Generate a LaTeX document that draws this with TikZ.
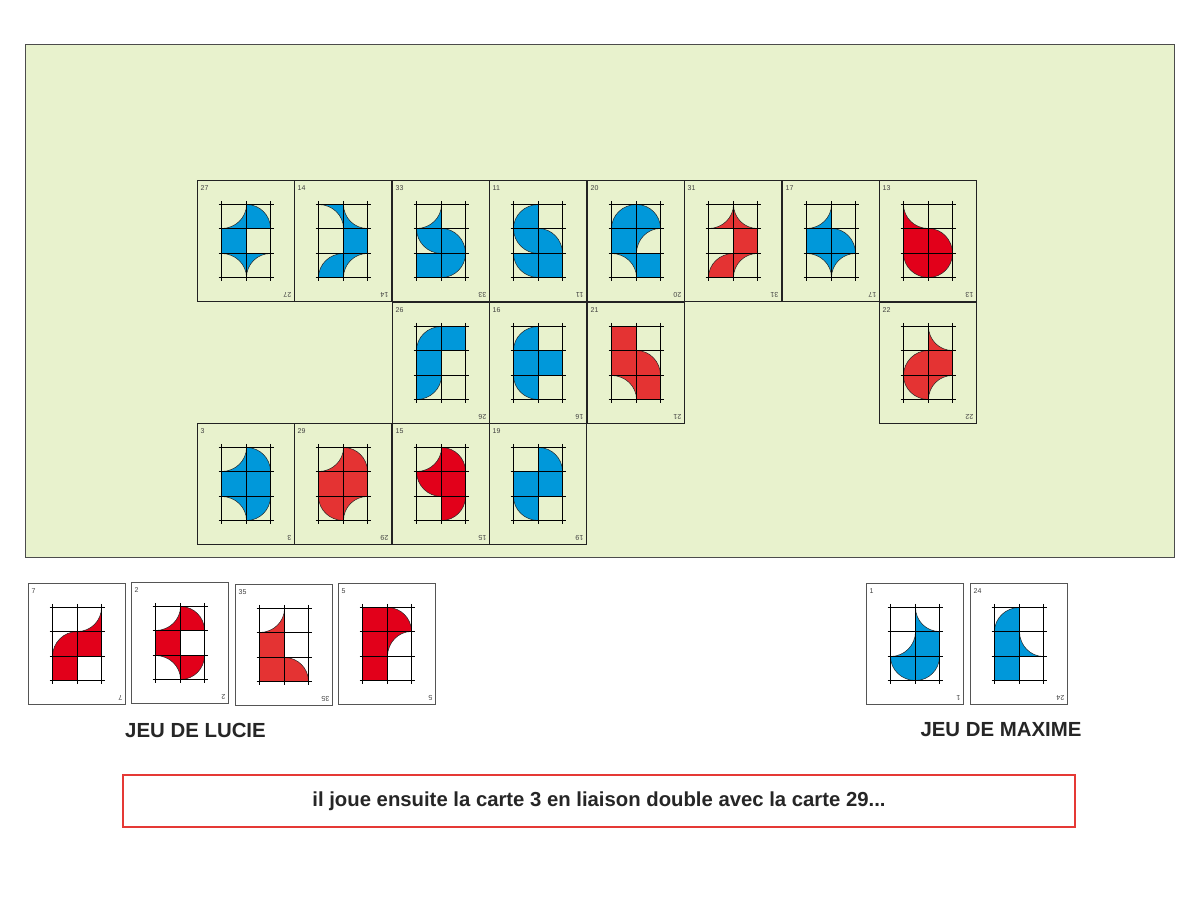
\documentclass[tikz,border=0pt]{standalone}
\usepackage{fontspec}
\setmainfont{Liberation Sans}
\definecolor{board}{HTML}{E8F2CD}
\definecolor{cblue}{HTML}{0098DA}
\definecolor{credA}{HTML}{E2001A}
\definecolor{credB}{HTML}{E43333}
\definecolor{cardline}{HTML}{222222}
\definecolor{handline}{HTML}{555555}
\definecolor{boxred}{HTML}{E53935}
\tikzset{
  piece/.style={draw=black!85, line width=0.5pt},
  gridline/.style={black, line width=1.3pt},
  cardbox/.style={draw=cardline, line width=1pt, minimum width=97pt, minimum height=121pt, inner sep=0pt, outer sep=0pt},
  cardnum/.style={font=\fontsize{7}{8}\selectfont, text=black!75, inner sep=0pt},
  hlabel/.style={font=\bfseries\fontsize{20.4}{24}\selectfont, text=black!85, inner sep=0pt},
  boardbox/.style={draw=black!70, line width=1pt, fill=board, minimum width=1149pt, minimum height=513pt, inner sep=0pt},
  msgbox/.style={draw=boxred, line width=1.2pt, fill=white, minimum width=952pt, minimum height=52pt, inner sep=0pt, font=\bfseries\fontsize{20.3}{24}\selectfont, text=black!85},
}
\newcommand\pcE[1]{}
\newcommand\pcF[1]{\filldraw[piece,fill=#1] (0,0) rectangle (1,1);}
\newcommand\pcQbl[1]{\filldraw[piece,fill=#1] (0,0) -- (1,0) arc[start angle=0,end angle=90,radius=1] -- cycle;}
\newcommand\pcQbr[1]{\filldraw[piece,fill=#1] (1,0) -- (1,1) arc[start angle=90,end angle=180,radius=1] -- cycle;}
\newcommand\pcQtl[1]{\filldraw[piece,fill=#1] (0,1) -- (0,0) arc[start angle=270,end angle=360,radius=1] -- cycle;}
\newcommand\pcQtr[1]{\filldraw[piece,fill=#1] (1,1) -- (0,1) arc[start angle=180,end angle=270,radius=1] -- cycle;}
\newcommand\pcCbl[1]{\filldraw[piece,fill=#1] (1,1) -- (0,1) arc[start angle=90,end angle=0,radius=1] -- cycle;}
\newcommand\pcCbr[1]{\filldraw[piece,fill=#1] (0,1) -- (0,0) arc[start angle=180,end angle=90,radius=1] -- cycle;}
\newcommand\pcCtl[1]{\filldraw[piece,fill=#1] (1,0) -- (1,1) arc[start angle=0,end angle=-90,radius=1] -- cycle;}
\newcommand\pcCtr[1]{\filldraw[piece,fill=#1] (0,0) -- (1,0) arc[start angle=270,end angle=180,radius=1] -- cycle;}
% #1 x (image), #2 top y (image), #3 number, #4 colour, #5 cells, #6 card fill, #7 border colour
\newcommand\gamecard[7]{%
  \pgfmathsetmacro\cx{floor(#1)+0.5}%
  \pgfmathsetmacro\cy{floor(900-#2)+0.5}%
  \node[cardbox,fill=#6,draw=#7,anchor=north west] (card#3) at (\cx,\cy) {};
  \pgfmathsetmacro\gx{\cx+24.4}%
  \pgfmathsetmacro\gy{\cy-23.8}%
  \foreach \cc [count=\i from 0] in {#5}{%
    \pgfmathtruncatemacro\rr{int(\i/2)}%
    \pgfmathtruncatemacro\ccol{mod(\i,2)}%
    \pgfmathsetmacro\pxa{floor(\gx+\ccol*24.4)+0.5}%
    \pgfmathsetmacro\pxb{floor(\gx+(\ccol+1)*24.4)+0.5}%
    \pgfmathsetmacro\pya{floor(\gy-(\rr+1)*24.4)+0.5}%
    \pgfmathsetmacro\pyb{floor(\gy-\rr*24.4)+0.5}%
    \pgfmathsetmacro\sx{\pxb-\pxa}%
    \pgfmathsetmacro\sy{\pyb-\pya}%
    \begin{scope}[shift={(\pxa pt,\pya pt)},x=\sx pt,y=\sy pt]
      \csname pc\cc\endcsname{#4}
    \end{scope}
  }
  \foreach \k in {0,1,2} {%
    \pgfmathsetmacro\lx{floor(\gx+\k*24.4)+0.5}%
    \draw[gridline] (\lx,\gy+3.3) -- (\lx,\gy-73.2-3.3);
  }
  \foreach \k in {0,1,2,3} {%
    \pgfmathsetmacro\ly{floor(\gy-\k*24.4)+0.5}%
    \draw[gridline] (\gx-3.3,\ly) -- (\gx+48.8+3.3,\ly);
  }
  \node[cardnum,anchor=north west] (numA#3) at (\cx+3,\cy-4.5) {#3};
  \node[cardnum,anchor=north west,rotate=180] (numB#3) at (\cx+94,\cy-117) {#3};
}
\begin{document}
\begin{tikzpicture}[x=1pt,y=1pt]
\useasboundingbox (0,0) rectangle (1200,900);
\fill[white] (0,0) rectangle (1200,900);
\node[boardbox,anchor=north west] (board) at (24.5,855.5) {};
% row 1
\gamecard{197}{181}{27}{cblue}{Ctl,Qbl,F,E,Cbl,Cbr}{none}{cardline}
\gamecard{294.5}{181}{14}{cblue}{Cbl,Ctr,E,F,Qbr,Cbr}{none}{cardline}
\gamecard{392}{181}{33}{cblue}{Ctl,E,Qtr,Qbl,F,Qtl}{none}{cardline}
\gamecard{489.5}{181}{11}{cblue}{Qbr,E,Qtr,Qbl,Qtr,F}{none}{cardline}
\gamecard{587}{181}{20}{cblue}{Qbr,Qbl,F,Cbr,Cbl,F}{none}{cardline}
\gamecard{684.5}{181}{31}{credB}{Ctl,Ctr,E,F,Qbr,Cbr}{none}{cardline}
\gamecard{782}{181}{17}{cblue}{Ctl,E,F,Qbl,Cbl,Cbr}{none}{cardline}
\gamecard{879.5}{181}{13}{credA}{Ctr,E,F,Qbl,Qtr,Qtl}{none}{cardline}
% row 2
\gamecard{392}{302.3}{26}{cblue}{Qbr,F,F,E,Qtl,E}{none}{cardline}
\gamecard{489.5}{302.3}{16}{cblue}{Qbr,E,F,F,Qtr,E}{none}{cardline}
\gamecard{587}{302.3}{21}{credB}{F,E,F,Qbl,Cbl,F}{none}{cardline}
\gamecard{879.5}{302.3}{22}{credB}{E,Ctr,Qbr,F,Qtr,Cbr}{none}{cardline}
% row 3
\gamecard{197}{423.6}{3}{cblue}{Ctl,Qbl,F,F,Cbl,Qtl}{none}{cardline}
\gamecard{294.5}{423.6}{29}{credB}{Ctl,Qbl,F,F,Qtr,Cbr}{none}{cardline}
\gamecard{392}{423.6}{15}{credA}{Ctl,Qbl,Qtr,F,E,Qtl}{none}{cardline}
\gamecard{489.5}{423.6}{19}{cblue}{E,Qbl,F,F,Qtr,E}{none}{cardline}
% hands
\gamecard{28}{583.5}{7}{credA}{E,Ctl,Qbr,F,F,E}{white}{handline}
\gamecard{131.5}{582.5}{2}{credA}{Ctl,Qbl,F,E,Cbl,Qtl}{white}{handline}
\gamecard{235}{584.5}{35}{credB}{Ctl,E,F,E,F,Qbl}{white}{handline}
\gamecard{338}{583.5}{5}{credA}{F,Qbl,F,Cbr,F,E}{white}{handline}
\gamecard{866.5}{583.5}{1}{cblue}{E,Ctr,Ctl,F,Qtr,Qtl}{white}{handline}
\gamecard{970}{583.5}{24}{cblue}{Qbr,E,F,Ctr,F,E}{white}{handline}
% labels
\node[hlabel] (lucie) at (195.5,170) {JEU DE LUCIE};
\node[hlabel] (maxime) at (1001,170) {JEU DE MAXIME};
\node[msgbox] (msg) at (599,99) {il joue ensuite la carte 3 en liaison double avec la carte 29...};
\end{tikzpicture}
\end{document}
